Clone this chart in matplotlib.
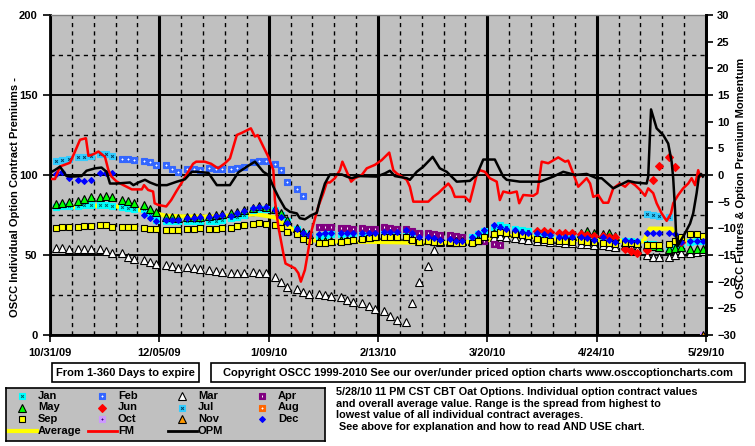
import matplotlib
matplotlib.use('Agg')
import matplotlib.pyplot as plt
from matplotlib.patches import Rectangle
from matplotlib.ticker import MultipleLocator, FixedLocator

plt.rcParams['font.family'] = ['Liberation Sans', 'DejaVu Sans']
plt.rcParams['font.weight'] = 'bold'

N = None
W, H = 755, 446

# x axis is days after 10/31/09
DATE_TICKS = [0, 35, 70, 105, 140, 175, 210]
DATE_LABELS = ['10/31/09', '12/05/09', '1/09/10', '2/13/10', '3/20/10', '4/24/10', '5/29/10']

# one Mon/Wed/Fri triple per trading week
WEEK_MONDAYS = list(range(2, 210, 7))

JAN = [[80, 80.5, 80.5], [80.5, 81, 81], [81.5, 81, 80.5], [80, 79.5, 79], [79, 76, 72],
       [71.5, 71, 71], [71, 71, 71], [71, 71.5, 72], [73, 74, 75], [78, 79, 79],
       [78, 75, 71], [66, 63.5, 62], [62, 62.5, 63], [63, 63.5, 63.5], [63.5, 64, 64],
       [65, 65.5, 65.5], [65, 64.5, 63.5], [63, 62.5, 62], [62, 61.5, 61], [61, 63, 65],
       [67.5, 68.5, 67.5], [66, 65.5, 65], [64, 63.5, 63], [62.5, 62.5, 62], [62, 61.5, 61.5],
       [60.5, 60, 60], [59, 58.5, 58], [57, 57, 56.5], [55, 56, 57], [58, 58.5, 58.5]]
FEB = [N, N, N, [110, 110, 109.5], [109, 108, 106.5], [106, 104, 102], [104, 103.5, 103],
       [104.5, 104, 103.5], [104, 104.5, 105], [108, 109, 108.5], [107, 103, 95.5],
       [91.5, 87, N]] + [N] * 18
MAR = [[54.5, 54.3, 54], [54, 53.8, 53.5], [53.5, 52.5, 51.5], [51, 49, 47.5], [47, 45.5, 44.5],
       [44, 43, 42], [42.5, 42, 41.5], [40.5, 40, 39.5], [39, 38.5, 38.5], [39.5, 39, 38.5],
       [36.5, 33, 30], [29, 27, 25.5], [25.5, 25, 24.5], [24, 22, 20.5], [20, 18, 16],
       [15, 12, 9.5], [8, 20, 33], [43, 53, 58], [58, 58, 58.5], [59, 59.5, 60],
       [61, 62, 61], [60.5, 60, 59.5], [59, 58.5, 58], [58, 57.5, 57.5], [57, 57, 56.5],
       [56, 55.5, 55], [56, 55, 54], [50, 49, 48.5], [49, 50, 51], [51.5, 52, 52.5]]
APR = [N] * 12 + [[67.5, 67.5, 67.5], [67, 67, 66.5], [67, 66.5, 66], [67.5, 67, 66.5],
                  [66.5, 65, 63.5], [63.5, 63, 62.5], [62.5, 62, 61.5], [N, 59, 58.5],
                  [57, 56, N]] + [N] * 9
MAY = [[82, 82.5, 83], [84, 85, 86], [86.5, 87, 86.5], [84.5, 83.5, 82.5], [81, 79, 77],
       [74, 73.5, 73], [74, 73.5, 73.5], [74.5, 75, 75.5], [76, 77, 78], [79.5, 80.5, 80],
       [79, 76, 72], [67, 64.5, 63], [59, 59, 59], [59.5, 59.5, 60], [61, 61.5, 62],
       [62.5, 62.5, 62], [62, 60.5, 59], [59.5, 59, 59], [59, 58.5, 58.5], [58.5, 60, 62],
       [64, 65.5, 64.5], [64, 63.5, 63], [61, 60.5, 60], [60, 61, 62], [64, 65, 64],
       [63, 64, 62], [58, 58, 57.5], [56, 55.5, 55], [54, 54.5, 55], [54, 53.5, 53.5]]
JUN = [N] * 22 + [[65, 65, 64.5], [64, 64, 63.5], [63, 62.5, 62], [62, 61.5, 61],
                  [54, 52.5, 51], [53, 97, 105.5], [111.5, 105, 58], N]
JUL = [[109, 109.5, 110], [111, 111.5, 112], [113, 113, 112]] + [N] * 24 + \
      [[75.5, 75, 74.5], [74, N, N], N]
AUG = [N] * 30
SEP = [[67, 67.3, 67.5], [67.5, 68, 68.3], [69, 68.5, 67.5], [67.5, 67.5, 67.3], [67, 66.5, 66],
       [65.5, 65.5, 65.5], [66, 66.5, 67], [66, 66.5, 67], [67, 68, 69], [69.5, 70, 69.5],
       [69, 67, 64.5], [63, 60, 58.5], [57.5, 57.5, 58], [58, 58.5, 59.5], [60, 60.5, 61],
       [61.5, 61.5, 61], [61, 59.5, 58], [58.5, 58.3, 58], [58, 57.7, 57.5], [57.5, 59, 61],
       [63, 64.5, 63.5], [63, 62.5, 62], [60, 59.5, 59], [58.5, 58.5, 58.3], [58.5, 58.3, 58],
       [57.5, 57.3, 57], [57.5, 57.3, 57], [56.5, 56.5, 56.2], [57, 59, 61], [63, 63, 62]]
OCT = [N] * 29 + [[N, N, 0]]
NOV = [N] * 29 + [[N, N, 0]]
DEC = [[100.5, 102, 98], [97, 96.5, 97], [101, 101.5, 101.5], N, [75, 73, 71.5],
       [72, 72, 72], [73, 73, 73.5], [74, 74.5, 75], [74.5, 76, 77.5], [79.5, 80, 80],
       [78, 74, 70], [66, 64, 62.5], [63, 63.5, 64], [63.5, 63.5, 63.5], [63.5, 63.5, 63.5],
       [64.5, 64.5, 64.5], [65.5, 63.5, 61.5], [61.5, 60.5, 59.5], [60, 59, 58.5],
       [61.5, 63.5, 65.5], [68.5, 67.5, 66.5], [65.5, 64.5, 63.5], [63.5, 63, 62.5],
       [61.5, 61.5, 61.5], [61.5, 60.5, 59.5], [61, 59.5, 58], [59.5, 59, 58.5],
       [64, 64, 64], [63.5, 63, 58], [58.5, 58.5, 58.5]]

AVG_DAYS = [2, 6, 11, 18, 25, 32, 37, 44, 52, 60, 66, 72, 77, 83, 90, 100, 110, 120, 130,
            140, 144, 150, 156, 160, 170, 180, 190, 192, 199, 201, 209]
AVG_VALUES = [80, 80, 80.5, 81, 79.5, 77, 74.5, 74, 74, 75, 75.5, 73.5, 66.7, 59.4, 58.3,
              58.3, 58, 57.5, 57.5, 59, 62.5, 61.5, 61, 60, 59.5, 59, 58.5, 66.5, 66.5, 59, 59]

FM_DAYS = [0, 1.6, 3.2, 6.4, 8.0, 9.6, 11.5, 11.9, 12.3, 13.9, 15.5, 17.6, 18.7, 19.7, 21.4,
           23.5, 26.2, 29.4, 30.1, 31.4, 33.0, 33.5, 34.6, 37.2, 38.8, 40.4, 42.0, 43.6, 45.8,
           46.8, 49.5, 51.6, 53.8, 56.0, 57.6, 59.8, 61.4, 64.3, 65.6, 66.5, 68.3, 69.9, 71.5,
           72.0, 73.1, 74.7, 75.4, 78.4, 79.5, 80.3, 81.6, 82.7, 83.8, 85.9, 87.5, 88.6, 89.6,
           91.2, 92.8, 93.6, 95.0, 96.4, 97.6, 99.8, 101.4, 104.0, 106.2, 108.6, 109.9, 111.0,
           114.2, 115.2, 116.3, 121.1, 122.7, 124.3, 127.5, 128.6, 129.6, 132.8, 134.4, 135.5,
           136.6, 137.6, 139.2, 140.8, 143.0, 144.0, 145.1, 147.2, 149.4, 150.2, 151.5, 154.7,
           156.0, 157.4, 159.5, 162.7, 164.9, 165.9, 169.1, 171.8, 172.9, 173.9, 175.5, 177.1,
           178.7, 180.3, 182.4, 184.1, 185.7, 187.3, 188.9, 190.5, 191.5, 193.1, 194.2, 195.8,
           197.4, 198.8, 199.5, 201.1, 202.7, 204.3, 205.4, 206.5, 207.5, 208.1, 208.6]
FM_VALUES = [-0.75, -0.75, 1.6, 2.3, 4.4, 6.6, 6.9, 5.3, 3.6, 3.9, 4.4, 3.4, 0.9, -0.3, -1.25,
             -1.9, -2.7, -2.7, -1.9, -2.8, -3.1, -5.3, -5.6, -5.9, -4.7, -3.1, -1.6, 0, 2.1,
             2.5, 2.5, 2.1, 1.25, 2.2, 3.1, 7.5, 7.9, 8.75, 7.2, 7.5, 5.3, 3.4, 0.9,
             -4.7, -9.7, -14.7, -16.6, -17.5, -18.4, -20, -17.8, -14.1, -10.3, -5.9, -3.4, -1.4, -1.4,
             -0.6, 0.9, 2.5, 0.6, -1.25, -0.6, 0, 1.25, 1.9, 2.8, 4.2, 0.9, 0.3,
             -0.9, -2.2, -5, -5, -4.1, -3.4, -1.6, -2.5, -4.1, -4.1, -5, -2.5,
             0, 0.9, 0.6, -0.6, -1.25, -4.7, -3.1, -3.4, -3.1, -5.3, -3.75, -3.9,
             -3.4, 2.5, 2.2, 3.3, 2.5, 2.7, -2.2, -0.6, -1.6, -4.1, -3.75, -5.2,
             -5.2, -2.5, -1.6, -2.2, -1.25, -1.9, -2.8, -3.9, -2.5, -3.4, -5.3, -7.2,
             -8.6, -7.2, -5.3, -3.75, -2.5, -1.6, -0.6, -1.9, 0.9, -0.3, 0]

OPM_DAYS = [0, 1.6, 3.2, 5.3, 6.9, 10.1, 11.7, 14.4, 16.5, 18.1, 19.2, 21.4, 25.6, 26.7, 28.3,
            30.4, 32.0, 34.2, 37.4, 40.6, 43.2, 45.4, 47.0, 50.7, 53.4, 57.6, 60.3, 63.0, 65.6,
            68.3, 69.9, 71.5, 73.1, 75.2, 76.8, 79.0, 80.0, 81.6, 83.8, 85.4, 86.4, 88.0, 89.6,
            93.4, 95.0, 96.6, 98.7, 104.6, 107.2, 108.8, 110.4, 114.2, 115.2, 117.4, 119.5,
            122.5, 124.8, 127.0, 130.2, 134.4, 136.6, 138.7, 142.4, 145.1, 146.2, 150.4, 156.9,
            161.1, 164.3, 168.1, 171.8, 175.0, 176.6, 180.3, 185.1, 187.3, 191.0, 191.5, 192.4,
            194.2, 196.3, 197.9, 199.0, 199.5, 200.1, 200.4, 200.9, 201.7, 203.3, 204.9, 205.9,
            207.0, 207.7, 208.4, 209.0]
OPM_VALUES = [0.43, 0.94, 1.56, -0.2, -0.3, -0.2, 0.8, 1.25, 1.4, 0.6, -1.6, -1.6, -1.4, -1.9, -1.4,
              -0.9, -1.4, -1.9, -1.9, -1.25, -0.8, 0.6, 0.6, 0.4, -1.9, -1.9, 0.5, 1.56, 2.5,
              0.6, 0, -2.2, -4.1, -6.25, -6.9, -7.2, -8.1, -8.3, -7.5, -7.1, -4.7, -1.6, 0.1,
              0.1, -0.3, -0.6, -0.2, -0.3, 0.3, 0.8, -0.2, -0.6, -0.9, 0.6, 1.56,
              3.4, 1.25, 0.6, -1.25, -1.1, 0, 2.9, 2.9, -0.3, -0.9, -1.25, -1.25,
              -0.3, 0.6, 0, 0.2, -0.6, -0.6, -2.5, -1.1, -1.4, -1.6, -0.3, 12.3,
              8.75, 7.5, 5.9, 2.5, -0.6, -6.6, -10.9, -13.4, -12.5, -10.9, -9.1, -7.2,
              -3.4, -0.3, 0.2, -0.3]

SERIES = [('Jan', JAN), ('Feb', FEB), ('Mar', MAR), ('Apr', APR), ('May', MAY), ('Jun', JUN),
          ('Jul', JUL), ('Aug', AUG), ('Sep', SEP), ('Oct', OCT), ('Nov', NOV), ('Dec', DEC)]

# marker look: (marker, size, face, edge, inner glyph, inner color)
STYLES = {
    'Jan': ('s', 5, '#00FFFF', '#00FFFF', 'x', '#006666'),
    'Feb': ('s', 5, '#3366FF', '#3366FF', '+', 'white'),
    'Mar': ('^', 5.2, 'white', 'black', None, None),
    'Apr': ('s', 4.8, '#800080', '#800080', '|', 'white'),
    'May': ('^', 5.2, '#00FF00', 'black', None, None),
    'Jun': ('D', 4, '#FF0000', '#FF0000', None, None),
    'Jul': ('s', 5, '#33CCFF', '#33CCFF', 'x', '#004466'),
    'Aug': ('s', 4.8, '#FF6600', '#FF6600', '+', 'white'),
    'Sep': ('s', 4.4, '#FFFF00', 'black', None, None),
    'Oct': ('s', 4.8, '#CC99FF', '#CC99FF', '+', '#400080'),
    'Nov': ('^', 5.2, '#FF9900', 'black', None, None),
    'Dec': ('D', 3, '#0000FF', '#0000FF', None, None),
}


def draw_marker(ax, x, y, name, zorder=3):
    marker, size, face, edge, inner, inner_color = STYLES[name]
    ax.plot(x, y, ls='none', marker=marker, ms=size, mfc=face, mec=edge, mew=0.8, zorder=zorder)
    if inner:
        ax.plot(x, y, ls='none', marker=inner, ms=2, mec=inner_color, mew=0.7, zorder=zorder)


def week_points(weeks):
    xs, ys = [], []
    for monday, vals in zip(WEEK_MONDAYS, weeks):
        if vals is None:
            continue
        for d, v in zip((0, 2, 4), vals):
            if v is not None:
                xs.append(monday + d)
                ys.append(v)
    return xs, ys


def fx(x):
    return x / W


def fy(y):
    return 1 - y / H


fig = plt.figure(figsize=(W / 100, H / 100), dpi=100)
ax = fig.add_axes([50 / W, 1 - 335 / H, 656 / W, 320 / H])
ax.set_facecolor('#C0C0C0')
ax.set_xlim(0, 210)
ax.set_ylim(0, 200)

# grid
ax.set_axisbelow(True)
ax.xaxis.set_major_locator(FixedLocator(DATE_TICKS))
ax.xaxis.set_minor_locator(MultipleLocator(7))
ax.yaxis.set_major_locator(MultipleLocator(50))
ax.yaxis.set_minor_locator(MultipleLocator(25))
ax.grid(True, axis='x', which='major', color='black', lw=2.2)
ax.grid(True, axis='x', which='minor', color='black', lw=1, ls=(0, (3, 3)))
ax.grid(True, axis='y', which='major', color='black', lw=1.4)
ax.grid(True, axis='y', which='minor', color='black', lw=1, ls=(0, (3, 3)))
ax.set_xticklabels(DATE_LABELS)
ax.tick_params(which='minor', length=0)
ax.tick_params(which='major', length=5, width=1.2, labelsize=8, pad=4)
for side in ('left', 'right', 'bottom'):
    ax.spines[side].set_color('black')
    ax.spines[side].set_linewidth(2)
ax.spines['top'].set_color('#808080')
ax.spines['top'].set_linewidth(1)

ax.plot(AVG_DAYS, AVG_VALUES, color='#FFFF00', lw=3, zorder=2)
for name, weeks in SERIES:
    xs, ys = week_points(weeks)
    if xs:
        draw_marker(ax, xs, ys, name)

ax2 = ax.twinx()
ax2.set_ylim(-30, 30)
ax2.yaxis.set_major_locator(MultipleLocator(5))
ax2.tick_params(length=5, width=1.2, labelsize=8, pad=3)
ax2.spines['right'].set_linewidth(2)
ax2.spines['top'].set_visible(False)
ax2.plot(FM_DAYS, FM_VALUES, color='#FF0000', lw=1.8)
ax2.plot(OPM_DAYS, OPM_VALUES, color='black', lw=1.8)

fig.text(fx(15), fy(197), 'OSCC Individual Option Contract Premiums -', rotation=90,
         ha='center', va='center', fontsize=8)
fig.text(fx(741), fy(178), 'OSCC Futures & Option Premium Momentum', rotation=90,
         ha='center', va='center', fontsize=8)

# boxed notes under the chart
for x0, x1, label in [(52, 199, 'From 1-360 Days to expire'),
                      (211, 745, 'Copyright OSCC 1999-2010 See our over/under priced option '
                                 'charts www.osccoptioncharts.com')]:
    fig.add_artist(Rectangle((fx(x0), fy(382)), (x1 - x0) / W, 19 / H, transform=fig.transFigure,
                             fill=False, ec='black', lw=1.2))
    fig.text(fx((x0 + x1) / 2), fy(372.5), label, ha='center', va='center', fontsize=8)

# legend panel
leg = fig.add_axes([fx(6), fy(441), 319 / W, 53 / H])
leg.set_xlim(0, 319)
leg.set_ylim(53, 0)
leg.set_facecolor('#C0C0C0')
leg.set_xticks([])
leg.set_yticks([])
for s in leg.spines.values():
    s.set_linewidth(1.2)
col_x = [16, 96, 176, 256]
row_y = [8, 19.5, 31]
for i, (name, _) in enumerate(SERIES):
    r, c = divmod(i, 4)
    draw_marker(leg, [col_x[c]], [row_y[r]], name)
    leg.text(col_x[c] + 16, row_y[r], name, va='center', fontsize=8)
for c, (label, color, lw) in enumerate([('Average', '#FFFF00', 3), ('FM', '#FF0000', 2),
                                         ('OPM', 'black', 2)]):
    leg.plot([2 + 80 * c, 31 + 80 * c], [43, 43], color=color, lw=lw)
    leg.text(32 + 80 * c, 43, label, va='center', fontsize=8)

NOTE = ['5/28/10 11 PM CST CBT Oat Options. Individual option contract values',
        'and overall average value. Range is the spread from highest to',
        'lowest value of all individual contract averages.',
        ' See above for explanation and how to read AND USE chart.']
for line, y in zip(NOTE, [392, 404, 415.5, 427]):
    fig.text(fx(336), fy(y), line, ha='left', va='center', fontsize=7.8)

fig.savefig('out.png', dpi=100)
